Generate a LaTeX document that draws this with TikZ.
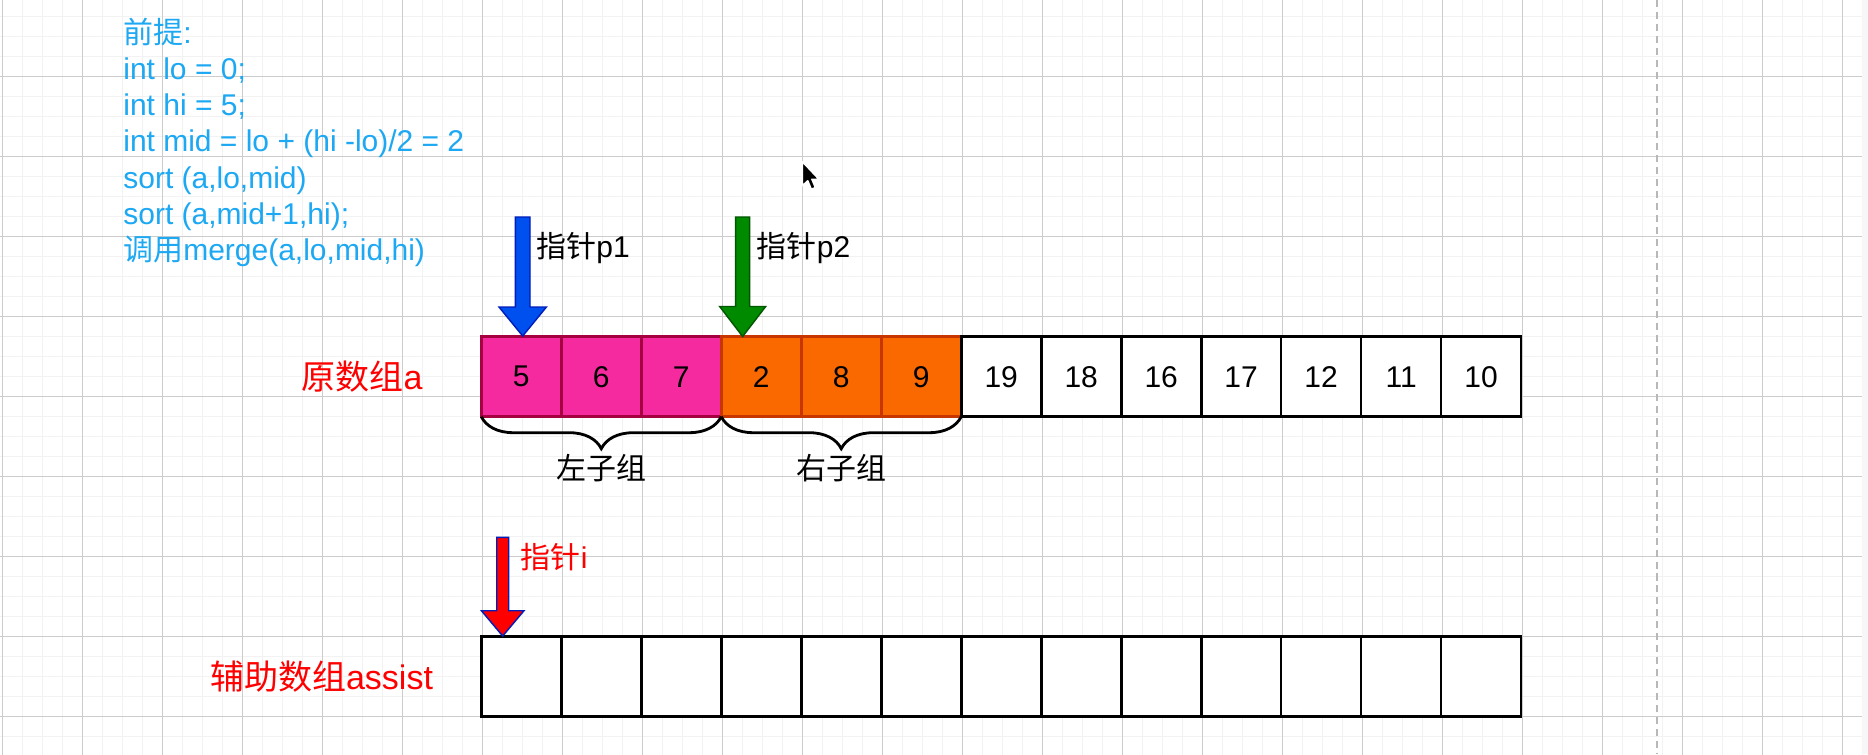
\documentclass[tikz,border=0pt]{standalone}
\usepackage{fontspec}
\setmainfont{Liberation Sans}
\newfontfamily\cjk{Noto Sans CJK SC}
\usepackage{tikz}
\usetikzlibrary{arrows, decorations.pathreplacing, positioning}
\definecolor{codeblue}{HTML}{1CA8F2}
\definecolor{namered}{HTML}{FF0000}
\definecolor{leftfill}{HTML}{F52A9F}
\definecolor{leftedge}{HTML}{A50040}
\definecolor{rightfill}{HTML}{FA6800}
\definecolor{rightedge}{HTML}{C73500}
\definecolor{pafill}{HTML}{0050EF}
\definecolor{paedge}{HTML}{001DBC}
\definecolor{pbfill}{HTML}{008A00}
\definecolor{pbedge}{HTML}{005700}
\tikzstyle{cell}=[rectangle, draw=black, fill=white, line width=1.5pt, minimum size=1.6cm, inner sep=0pt, outer sep=0pt, font=\fontsize{17.07}{20.54}\selectfont]
\tikzstyle{leftcell}=[cell, draw=leftedge, fill=leftfill]
\tikzstyle{rightcell}=[cell, draw=rightedge, fill=rightfill]
\tikzstyle{pointer}=[line width=0.8pt, line join=miter]
\tikzstyle{note}=[inner sep=0pt, font=\fontsize{17.07}{20.54}\selectfont]
\tikzstyle{arrayname}=[inner sep=0pt, text=namered, font=\fontsize{19.35}{23.2}\selectfont]
\tikzstyle{curly}=[decorate, decoration={brace, mirror, amplitude=0.64cm}, line width=1.6pt]
\tikzstyle{minorgrid}=[draw=black!5, line width=0.8pt]
\tikzstyle{majorgrid}=[draw=black!20, line width=0.6pt]

\begin{document}
\begin{tikzpicture}[x=0.02cm, y=-0.02cm]
    \useasboundingbox (0,0) rectangle (1868,754);
    \clip (0,0) rectangle (1868,754);
    \fill[white] (0,0) rectangle (1868,754);

    % Background grid:
    \begin{scope}[shift={(2.7,-3.3)}]
        \draw[minorgrid, step=0.4cm] (-0.2cm,-15.4cm) grid (37.2cm,0.2cm);
        \draw[majorgrid, step=1.6cm] (-0.2cm,-15.4cm) grid (37.2cm,0.2cm);
    \end{scope}
    \fill[black!3] (1862,0) rectangle (1868,754);
    \draw[black!28, line width=1.1pt, dash pattern=on 4pt off 2.8pt] (1657,0) -- (1657,754);

    % Premise:
    \node[note, text=codeblue, align=left, anchor=north west] (premise) at (123,18) {{\cjk 前提}:\\int lo = 0;\\int hi = 5;\\int mid = lo + (hi -lo)/2 = 2\\sort (a,lo,mid)\\sort (a,mid+1,hi);\\{\cjk 调用}merge(a,lo,mid,hi)};

    % Array a:
    \node[leftcell] (a1) at (521.3,376.7) {5};
    \node[leftcell] (a2) [right=0pt of a1] {6};
    \node[leftcell] (a3) [right=0pt of a2] {7};
    \node[rightcell] (a4) [right=0pt of a3] {2};
    \node[rightcell] (a5) [right=0pt of a4] {8};
    \node[rightcell] (a6) [right=0pt of a5] {9};
    \node[cell] (a7) [right=0pt of a6] {19};
    \node[cell] (a8) [right=0pt of a7] {18};
    \node[cell] (a9) [right=0pt of a8] {16};
    \node[cell] (a10) [right=0pt of a9] {17};
    \node[cell] (a11) [right=0pt of a10] {12};
    \node[cell] (a12) [right=0pt of a11] {11};
    \node[cell] (a13) [right=0pt of a12] {10};
    \node[arrayname] (aname) [left=1.17cm of a1] {{\cjk 原数组}a};

    \draw[curly] (a1.south west) -- (a3.south east);
    \draw[curly] (a4.south west) -- (a6.south east);
    \node[note] (lhalf) at (601.3,468) {\cjk 左子组};
    \node[note] (rhalf) at (841.3,468) {\cjk 右子组};

    % Pointers p1, p2:
    \draw[pointer, draw=paedge, fill=pafill] (a1.north) ++(1.4,-0.7) -- ++(-23.7,-29) -- ++(16.4,0) -- ++(0,-90) -- ++(14.6,0) -- ++(0,90) -- ++(16.4,0) -- cycle;
    \node[note, anchor=west] (pa) at (536,248.3) {{\cjk 指针}p1};
    \draw[pointer, draw=pbedge, fill=pbfill] (a4.north) ++(-18.6,-0.2) -- ++(-23,-30) -- ++(16,0) -- ++(0,-89.5) -- ++(14,0) -- ++(0,89.5) -- ++(16,0) -- cycle;
    \node[note, anchor=west] (pb) at (756.5,248.3) {{\cjk 指针}p2};

    % Array assist:
    \node[cell] (b1) at (521.3,676.7) {};
    \node[cell] (b2) [right=0pt of b1] {};
    \node[cell] (b3) [right=0pt of b2] {};
    \node[cell] (b4) [right=0pt of b3] {};
    \node[cell] (b5) [right=0pt of b4] {};
    \node[cell] (b6) [right=0pt of b5] {};
    \node[cell] (b7) [right=0pt of b6] {};
    \node[cell] (b8) [right=0pt of b7] {};
    \node[cell] (b9) [right=0pt of b8] {};
    \node[cell] (b10) [right=0pt of b9] {};
    \node[cell] (b11) [right=0pt of b10] {};
    \node[cell] (b12) [right=0pt of b11] {};
    \node[cell] (b13) [right=0pt of b12] {};
    \node[arrayname] (bname) [left=0.96cm of b1] {{\cjk 辅助数组}assist};

    % Pointer i:
    \draw[pointer, draw=paedge, fill=namered] (b1.north) ++(-18.6,-0.7) -- ++(-21.3,-25.3) -- ++(15.3,0) -- ++(0,-73.4) -- ++(12,0) -- ++(0,73.4) -- ++(15.3,0) -- cycle;
    \node[note, text=namered, anchor=west] (pi) at (520.5,557.3) {{\cjk 指针}i};

    % Cursor:
    \draw[fill=black, draw=white, line width=0.8pt, line join=round] (802.3,161.7) -- ++(0,24) -- ++(5.5,-5) -- ++(3.5,8.5) -- ++(4,-1.7) -- ++(-3.5,-8.3) -- ++(7,0) -- cycle;
\end{tikzpicture}
\end{document}
